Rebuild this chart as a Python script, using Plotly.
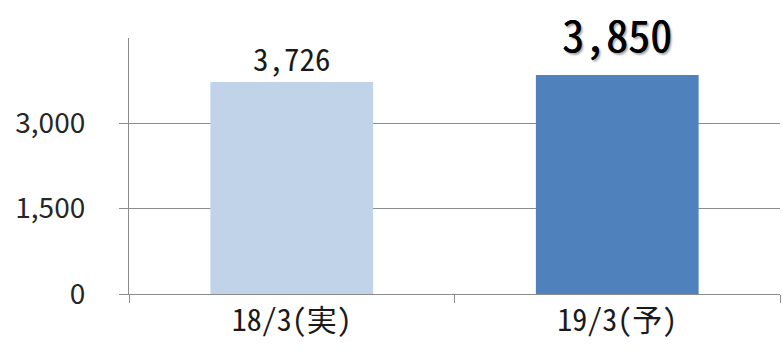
import plotly.graph_objects as go

# Data
categories = ["18/3(実)", "19/3(予)"]
values = [3726, 3850]
bar_colors = ["#C0D3E9", "#4F81BD"]
y_ticks = [0, 1500, 3000]
y_tick_labels = ["0", "1,500", "3,000"]

mono = "Noto Sans Mono CJK JP, Noto Sans CJK JP, sans-serif"
prop = "Noto Sans CJK JP, Noto Sans, sans-serif"
grid = "#8C8C8C"

fig = go.Figure(
    go.Bar(
        x=categories,
        y=values,
        marker=dict(color=bar_colors, line=dict(width=0)),
        hoverinfo="skip",
    )
)

# value labels above the bars; the forecast one is larger, with a soft shadow
label_styles = [
    dict(size=31, color="#1a1a1a", weight="normal", shadow="none", yshift=0),
    dict(size=44, color="#000000", weight=500,
         shadow="0.6px 0 0 #000, 2px 2px 2px rgba(0,0,0,0.35)", yshift=8),
]
for cat, val, st in zip(categories, values, label_styles):
    fig.add_annotation(
        x=cat, y=val, text=f"{val:,}", showarrow=False,
        xanchor="center", yanchor="bottom", yshift=st["yshift"],
        font=dict(family=mono, size=st["size"], color=st["color"],
                  weight=st["weight"], shadow=st["shadow"]),
    )

fig.update_layout(
    width=783, height=350,
    margin=dict(l=129, r=3, t=38, b=56),
    paper_bgcolor="white", plot_bgcolor="white",
    bargap=0.5, showlegend=False,
    xaxis=dict(
        type="category", tickson="boundaries", ticks="outside", ticklen=8,
        tickcolor=grid, tickwidth=1.3, showline=True, linecolor=grid, linewidth=1.3,
        showgrid=False, tickfont=dict(family=mono, size=30, color="#1a1a1a"),
    ),
    yaxis=dict(
        range=[0, 4500], tickvals=y_ticks, ticktext=y_tick_labels,
        ticks="outside", ticklen=9, tickcolor=grid, tickwidth=1.3,
        showline=True, linecolor=grid, linewidth=1.3,
        showgrid=True, gridcolor=grid, gridwidth=1.3,
        zeroline=False, ticklabelstandoff=28,
        tickfont=dict(family=prop, size=28, color="#262626"),
    ),
)

fig.write_html("out.html")
